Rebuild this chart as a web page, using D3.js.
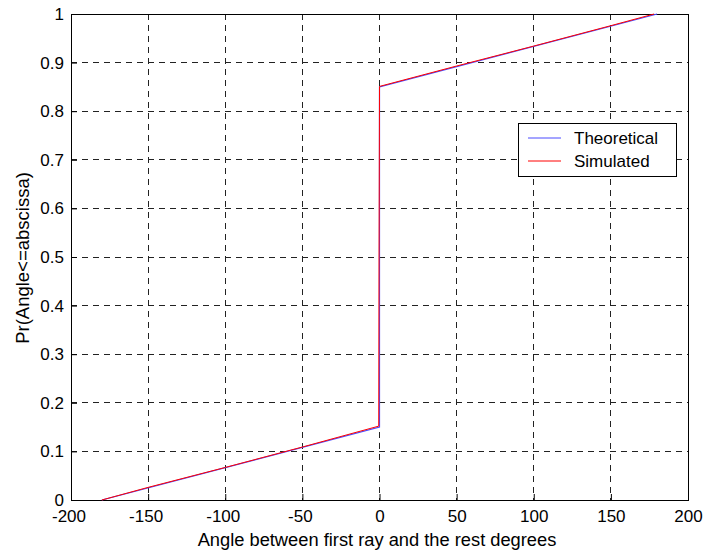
<!DOCTYPE html>
<html>
<head>
<meta charset="utf-8">
<script src="https://cdn.jsdelivr.net/npm/d3@7"></script>
<style>
  body { margin: 0; background: #fff; }
  text { font-family: "Liberation Sans", Arial, sans-serif; }
</style>
</head>
<body>
<div id="chart"></div>
<script>
// ---- data ----
const theoX = [-180, 0, 0, 180];
const theoY = [0, 0.15, 0.85, 1];

const simX = [-180, -150, -100, -50, -0.5, -0.3, 0, 50, 100, 150, 178];
const simY = [0, 0.026, 0.067, 0.109, 0.152, 0.5, 0.851, 0.893, 0.934, 0.976, 1];

const xTicks = [-200, -150, -100, -50, 0, 50, 100, 150, 200];
const yTicks = [0, 0.1, 0.2, 0.3, 0.4, 0.5, 0.6, 0.7, 0.8, 0.9, 1];

const seriesNames = ["Theoretical", "Simulated"];
const seriesColors = ["#4a4aff", "#ff0000"];

// ---- layout ----
const W = 704, H = 554;
const mLeft = 71, mRight = 688, mTop = 14, mBottom = 500;
const fs = 17;

const svg = d3.select("#chart").append("svg")
  .attr("width", W).attr("height", H);

const x = d3.scaleLinear().domain([-200, 200]).range([mLeft, mRight]);
const y = d3.scaleLinear().domain([0, 1]).range([mBottom, mTop]);

// grid
const grid = svg.append("g").attr("stroke", "#222").attr("stroke-width", 1)
  .attr("stroke-dasharray", "6,5").attr("shape-rendering", "crispEdges");
grid.selectAll("line.gx").data(xTicks.slice(1, -1)).enter().append("line")
  .attr("x1", d => x(d)).attr("x2", d => x(d)).attr("y1", mTop).attr("y2", mBottom);
grid.selectAll("line.gy").data(yTicks.slice(1, -1)).enter().append("line")
  .attr("x1", mLeft).attr("x2", mRight).attr("y1", d => y(d)).attr("y2", d => y(d));

// axes (MATLAB style, inward ticks, plain hyphen minus)
const fmt = d => String(d);
const xAxis = d3.axisBottom(x).tickValues(xTicks).tickSizeInner(-6).tickSizeOuter(0)
  .tickPadding(10).tickFormat(fmt);
const yAxis = d3.axisLeft(y).tickValues(yTicks).tickSizeInner(-6).tickSizeOuter(0)
  .tickPadding(7).tickFormat(fmt);

const gx = svg.append("g").attr("transform", `translate(0,${mBottom})`).call(xAxis);
const gy = svg.append("g").attr("transform", `translate(${mLeft},0)`).call(yAxis);
[gx, gy].forEach(g => {
  g.select(".domain").remove();
  g.selectAll("text").attr("font-size", fs).attr("fill", "#000")
    .attr("font-family", "Liberation Sans, Arial, sans-serif");
  g.selectAll("line").attr("stroke", "#000");
});
gx.selectAll("text").attr("dx", d => d < 0 ? -2.5 : 0);

// box
svg.append("rect").attr("x", mLeft).attr("y", mTop)
  .attr("width", mRight - mLeft).attr("height", mBottom - mTop)
  .attr("fill", "none").attr("stroke", "#000").attr("stroke-width", 1)
  .attr("shape-rendering", "crispEdges");

// lines
const line = d3.line().x(d => x(d[0])).y(d => y(d[1]));
const theo = theoX.map((v, i) => [v, theoY[i]]);
const sim = simX.map((v, i) => [v, simY[i]]);

svg.append("path").datum(theo).attr("d", line)
  .attr("fill", "none").attr("stroke", seriesColors[0]).attr("stroke-width", 1.2);
svg.append("path").datum(sim).attr("d", line)
  .attr("fill", "none").attr("stroke", seriesColors[1]).attr("stroke-width", 1);

// axis labels
svg.append("text").attr("x", 377).attr("y", 546).attr("text-anchor", "middle")
  .attr("font-size", 18.3).text("Angle between first ray and the rest degrees");
svg.append("text").attr("transform", `translate(29,258) rotate(-90)`)
  .attr("text-anchor", "middle").attr("font-size", 18.5).text("Pr(Angle<=abscissa)");

// legend
const lg = svg.append("g");
lg.append("rect").attr("x", 518.5).attr("y", 123.5).attr("width", 158).attr("height", 53)
  .attr("fill", "#fff").attr("stroke", "#000").attr("stroke-width", 1);
seriesNames.forEach((name, i) => {
  const yy = 138 + i * 23;
  lg.append("line").attr("x1", 528).attr("x2", 561).attr("y1", yy).attr("y2", yy)
    .attr("stroke", seriesColors[i]).attr("stroke-width", 1);
  lg.append("text").attr("x", 574).attr("y", yy + 6).attr("font-size", fs).text(name);
});
</script>
</body>
</html>
